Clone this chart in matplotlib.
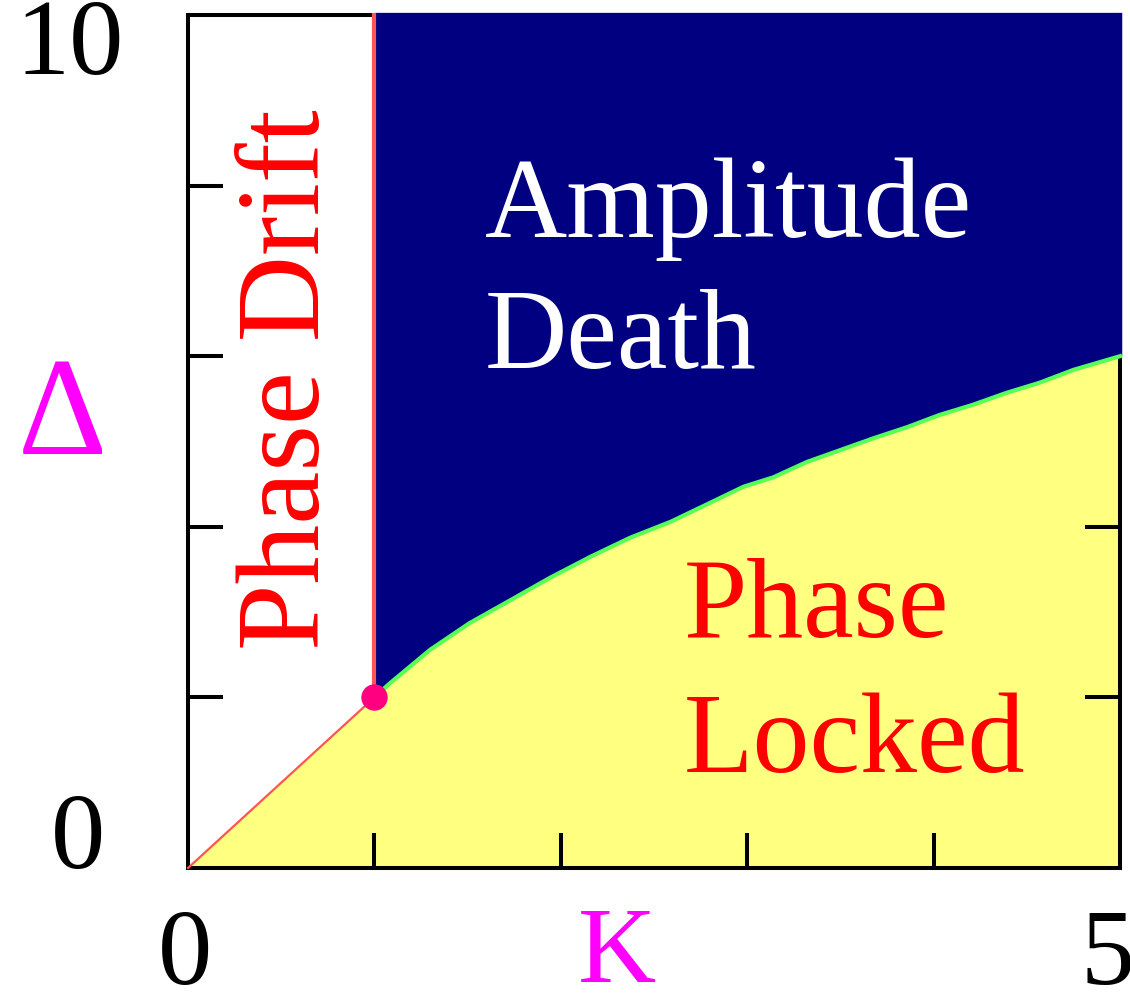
import numpy as np
import matplotlib.pyplot as plt

# boundary between amplitude death and phase locked region
K_bnd = [1.0, 1.08, 1.30, 1.51, 1.73, 1.94, 2.16, 2.37, 2.59, 2.80, 2.98,
         3.14, 3.32, 3.50, 3.68, 3.86, 4.03, 4.21, 4.39, 4.57, 4.75, 5.0]
D_bnd = [2.0, 2.16, 2.56, 2.87, 3.14, 3.40, 3.65, 3.87, 4.06, 4.28, 4.47,
         4.58, 4.76, 4.90, 5.04, 5.17, 5.31, 5.43, 5.57, 5.69, 5.84, 6.0]

# phase drift / phase locked line, Delta = 2K for K < 1
K_line = [0.0, 1.0]
D_line = [0.0, 2.0]

K_crit = 1.0
D_crit = 2.0
K_max = 5
D_max = 10

navy = '#000080'
yellow = '#ffff80'
salmon = '#ff5555'
green = '#55ff55'
magenta = '#ff00ff'
serif = ['Liberation Serif', 'DejaVu Serif']

W, H = 1130, 1006
fig = plt.figure(figsize=(W / 100, H / 100), dpi=100)
ax = fig.add_axes([188 / W, 1 - 868 / H, (1120 - 188) / W, (868 - 15) / H])
ax.set_xlim(0, K_max)
ax.set_ylim(0, D_max)

# yellow phase locked area
kx = np.array(K_line + K_bnd[1:] + [K_max, 0])
dy = np.array(D_line + D_bnd[1:] + [0, 0])
ax.fill(kx, dy, color=yellow, lw=0, zorder=1)

# navy amplitude death area, drawn over the spines
ex_k, ex_d = 0.012, 0.025
nk = np.array(K_bnd + [K_max + ex_k, K_max + ex_k, K_crit])
nd = np.array(D_bnd + [D_bnd[-1], D_max + ex_d, D_max + ex_d])
ax.fill(nk, nd, color=navy, lw=0, zorder=3, clip_on=False)

ax.plot(K_bnd, D_bnd, color=green, lw=3, zorder=4, clip_on=False)
ax.plot(K_line, D_line, color=salmon, lw=1.6, zorder=4, clip_on=False)
ax.plot([K_crit, K_crit], [D_crit, D_max + ex_d], color=salmon, lw=3, zorder=4,
        clip_on=False, solid_capstyle='butt')
ax.plot(K_crit, D_crit, 'o', color='#ff0080', ms=19, mec='none', zorder=5, clip_on=False)

for s in ax.spines.values():
    s.set_linewidth(2.9)
ax.set_xticks([1, 2, 3, 4])
ax.set_yticks([2, 4, 6, 8])
ax.tick_params(direction='in', length=25, width=2.9, labelbottom=False, labelleft=False,
               right=True, top=False)

# tick labels and axis labels
def ftext(x, y, s, size=78, **kw):
    fig.text(x / W, 1 - y / H, s, ha='center', va='center', family=serif, fontsize=size, **kw)

ftext(70, 48, '10')
ftext(78, 842, '0')
ftext(185, 958, '0')
ftext(1108, 958, '5')
ftext(617, 956, 'K', color=magenta)
ftext(62, 420, '\u0394', size=100, color=magenta)

# region labels
tk = dict(family=serif, fontsize=82, zorder=6)
ax.text(1.59, 7.40, 'Amplitude', color='white', ha='left', va='baseline', **tk)
ax.text(1.59, 5.86, 'Death', color='white', ha='left', va='baseline', **tk)
ax.text(2.66, 2.71, 'Phase', color='red', ha='left', va='baseline', **tk)
ax.text(2.66, 1.12, 'Locked', color='red', ha='left', va='baseline', **tk)
ax.text(0.55, 5.72, 'Phase Drift', color='red', ha='center', va='center', rotation=90,
        family=serif, fontsize=86, zorder=6)

fig.savefig('out.png', dpi=100)
